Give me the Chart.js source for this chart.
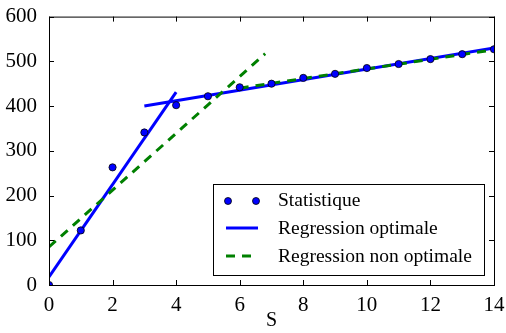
<!DOCTYPE html>
<html>
<head>
<meta charset="utf-8">
<script src="https://cdn.jsdelivr.net/npm/chart.js@4.4.1/dist/chart.umd.min.js"></script>
<style>
  html, body { margin: 0; padding: 0; background: #fff; }
  #wrap { width: 506px; height: 333px; }
</style>
</head>
<body>
<div id="wrap"><canvas id="chart"></canvas></div>
<script>
// data
const xs = [0, 1, 2, 3, 4, 5, 6, 7, 8, 9, 10, 11, 12, 13, 14];
const stat = [0, 122, 263, 341, 402, 422, 442, 450, 463, 472, 485, 494, 505, 516, 527];
const optA = [[0, 18], [4, 431]];
const optB = [[3, 400], [14, 530]];
const nonA = [[0, 85], [6.8, 517]];
const nonB = [[6, 440], [14, 526]];
const xTicks = [0, 2, 4, 6, 8, 10, 12, 14];
const yTicks = [0, 100, 200, 300, 400, 500, 600];
const labels = ['Statistique', 'Regression optimale', 'Regression non optimale'];

const FONT = '"Liberation Serif", "DejaVu Serif", serif';
const BLUE = '#0000ff';
const GREEN = '#008000';

function pts(arr) { return arr.map(p => ({ x: p[0], y: p[1] })); }

// inward tick marks + frame, matplotlib-style
const frame = {
  id: 'frame',
  afterDatasetsDraw(chart) {
    const { ctx, chartArea: a, scales } = chart;
    ctx.save();
    ctx.strokeStyle = '#000';
    ctx.lineWidth = 1;
    const len = 5;
    ctx.beginPath();
    xTicks.forEach(v => {
      const px = Math.round(scales.x.getPixelForValue(v)) + 0.5;
      ctx.moveTo(px, a.bottom); ctx.lineTo(px, a.bottom - len);
      ctx.moveTo(px, a.top); ctx.lineTo(px, a.top + len);
    });
    yTicks.forEach(v => {
      const py = Math.round(scales.y.getPixelForValue(v)) + 0.5;
      ctx.moveTo(a.left, py); ctx.lineTo(a.left + len, py);
      ctx.moveTo(a.right, py); ctx.lineTo(a.right - len, py);
    });
    ctx.stroke();
    ctx.strokeRect(a.left + 0.5, a.top + 0.5, a.right - a.left, a.bottom - a.top);
    ctx.restore();
  },
  afterDraw(chart) {
    // legend box in lower right
    const { ctx } = chart;
    const bx = 213, by = 184, bw = 271, bh = 91;
    ctx.save();
    ctx.fillStyle = '#fff';
    ctx.fillRect(bx, by, bw, bh);
    ctx.strokeStyle = '#000';
    ctx.lineWidth = 1;
    ctx.strokeRect(bx + 0.5, by + 0.5, bw, bh);
    const rows = [201, 229, 257];
    // markers
    [228, 256].forEach(mx => {
      ctx.beginPath();
      ctx.arc(mx, rows[0], 3.5, 0, Math.PI * 2);
      ctx.fillStyle = BLUE; ctx.fill();
      ctx.strokeStyle = '#000'; ctx.lineWidth = 0.8; ctx.stroke();
    });
    ctx.lineWidth = 3;
    ctx.strokeStyle = BLUE;
    ctx.beginPath(); ctx.moveTo(226, rows[1] - 1); ctx.lineTo(258, rows[1] - 1); ctx.stroke();
    ctx.strokeStyle = GREEN;
    ctx.setLineDash([9, 7]);
    ctx.beginPath(); ctx.moveTo(226, rows[2] - 1); ctx.lineTo(258, rows[2] - 1); ctx.stroke();
    ctx.setLineDash([]);
    ctx.fillStyle = '#000';
    ctx.font = '19.5px ' + FONT;
    ctx.textBaseline = 'middle';
    labels.forEach((t, i) => ctx.fillText(t, 278, rows[i]));
    ctx.restore();
  }
};

new Chart(document.getElementById('chart'), {
  type: 'scatter',
  data: {
    datasets: [
      {
        label: labels[0],
        data: xs.map((x, i) => ({ x: x, y: stat[i] })),
        backgroundColor: BLUE,
        borderColor: '#000',
        borderWidth: 0.8,
        pointRadius: 3.6,
        showLine: false,
        order: 0
      },
      {
        label: labels[1],
        data: pts(optA),
        showLine: true, borderColor: BLUE, borderWidth: 3,
        pointRadius: 0, order: 2
      },
      {
        data: pts(optB),
        showLine: true, borderColor: BLUE, borderWidth: 3,
        pointRadius: 0, order: 2
      },
      {
        label: labels[2],
        data: pts(nonA),
        showLine: true, borderColor: GREEN, borderWidth: 3, borderDash: [9, 7],
        pointRadius: 0, order: 1
      },
      {
        data: pts(nonB),
        showLine: true, borderColor: GREEN, borderWidth: 3, borderDash: [9, 7],
        pointRadius: 0, order: 1
      }
    ]
  },
  options: {
    responsive: true,
    maintainAspectRatio: false,
    animation: false,
    layout: { padding: { top: 11, right: 12, left: 0, bottom: 0 } },
    plugins: { legend: { display: false }, tooltip: { enabled: false } },
    scales: {
      x: {
        type: 'linear', min: 0, max: 14,
        afterBuildTicks: s => { s.ticks = xTicks.map(v => ({ value: v })); },
        afterFit: s => { s.height = 48; },
        grid: { display: false },
        border: { display: false },
        ticks: { color: '#000', font: { family: FONT, size: 21 }, padding: 0, maxRotation: 0 },
        title: { display: true, text: 'S', color: '#000', font: { family: FONT, size: 20 }, padding: 0 }
      },
      y: {
        type: 'linear', min: 0, max: 600,
        afterBuildTicks: s => { s.ticks = yTicks.map(v => ({ value: v })); },
        afterFit: s => { s.width = 49; },
        grid: { display: false },
        border: { display: false },
        ticks: { color: '#000', font: { family: FONT, size: 21 }, padding: 4 }
      }
    }
  },
  plugins: [frame]
});
</script>
</body>
</html>
